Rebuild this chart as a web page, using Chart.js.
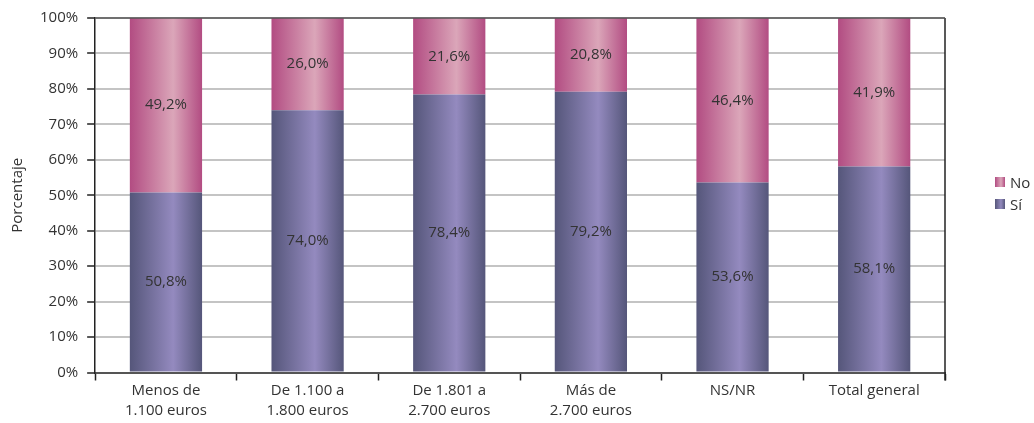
<!DOCTYPE html>
<html>
<head>
<meta charset="utf-8">
<script src="https://cdn.jsdelivr.net/npm/chart.js@4/dist/chart.umd.min.js"></script>
<style>
  html, body { margin: 0; padding: 0; background: #fff; }
  #wrap { position: relative; width: 1034px; height: 423px; }
  .legend { position: absolute; left: 995px; top: 171px; font-family: "Open Sans", sans-serif; font-size: 15px; color: #333; }
  .legend div { display: flex; align-items: center; height: 22px; }
  .legend span.box { width: 10px; height: 10px; margin-right: 5px; display: inline-block; }
</style>
</head>
<body>
<div id="wrap">
  <canvas id="chart" width="1034" height="423"></canvas>
  <div class="legend">
    <div><span class="box" style="background: linear-gradient(90deg, #b24c82, #dba6b9 60%, #b24c82)"></span>No</div>
    <div><span class="box" style="background: linear-gradient(90deg, #56577a, #938abe 60%, #56577a)"></span>Sí</div>
  </div>
</div>
<script>
// Chart data
const categories = [
  ["Menos de", "1.100 euros"],
  ["De 1.100 a", "1.800 euros"],
  ["De 1.801 a", "2.700 euros"],
  ["Más de", "2.700 euros"],
  "NS/NR",
  "Total general",
];
const siValues = [50.8, 74.0, 78.4, 79.2, 53.6, 58.1];
const noValues = [49.2, 26.0, 21.6, 20.8, 46.4, 41.9];
const yTicks = [0, 10, 20, 30, 40, 50, 60, 70, 80, 90, 100];

const BAR_PCT = 0.51;
const FONT = "Open Sans";

// horizontal gradient across each bar: dark edges, light centre
function barGradient(dark, light, fallback) {
  return (context) => {
    const chart = context.chart;
    const xScale = chart.scales.x;
    if (!chart.chartArea || !xScale || context.dataIndex === undefined) return fallback;
    const center = xScale.getPixelForValue(context.dataIndex);
    const half = (xScale.width / categories.length) * BAR_PCT / 2;
    const g = chart.ctx.createLinearGradient(center - half, 0, center + half, 0);
    g.addColorStop(0, dark);
    g.addColorStop(0.6, light);
    g.addColorStop(1, dark);
    return g;
  };
}

// values written in the middle of each segment
const segmentLabels = {
  id: "segmentLabels",
  afterDatasetsDraw(chart) {
    const ctx = chart.ctx;
    ctx.save();
    ctx.font = '15px "' + FONT + '", sans-serif';
    ctx.fillStyle = "#333";
    ctx.textAlign = "center";
    ctx.textBaseline = "middle";
    chart.data.datasets.forEach((ds, i) => {
      chart.getDatasetMeta(i).data.forEach((bar, j) => {
        const y = (bar.y + bar.base) / 2;
        ctx.fillText(ds.data[j].toFixed(1).replace(".", ",") + "%", bar.x, y);
      });
    });
    ctx.restore();
  },
};

// top and right edge of the plot frame
const plotFrame = {
  id: "plotFrame",
  afterDraw(chart) {
    const { ctx, chartArea } = chart;
    ctx.save();
    ctx.strokeStyle = "#222";
    ctx.lineWidth = 1.5;
    ctx.beginPath();
    ctx.moveTo(chartArea.right, chartArea.top);
    ctx.lineTo(chartArea.right, chartArea.bottom + 8);
    ctx.stroke();
    ctx.strokeStyle = "#555";
    ctx.beginPath();
    ctx.moveTo(chartArea.left, chartArea.top);
    ctx.lineTo(chartArea.right, chartArea.top);
    ctx.stroke();
    ctx.restore();
  },
};

const ctx = document.getElementById("chart").getContext("2d");
const chart = new Chart(ctx, {
  type: "bar",
  data: {
    labels: categories,
    datasets: [
      {
        label: "Sí",
        data: siValues,
        backgroundColor: barGradient("#55567a", "#948abf", "#7a72a0"),
        borderWidth: 0,
        barPercentage: BAR_PCT,
        categoryPercentage: 1,
      },
      {
        label: "No",
        data: noValues,
        backgroundColor: barGradient("#b24c82", "#dba6b9", "#c77a9e"),
        borderWidth: 0,
        barPercentage: BAR_PCT,
        categoryPercentage: 1,
      },
    ],
  },
  options: {
    responsive: false,
    animation: false,
    layout: {
      padding: { top: 14, right: 89, left: 9, bottom: 2 },
    },
    scales: {
      x: {
        stacked: true,
        grid: {
          offset: true,
          drawOnChartArea: false,
          tickLength: 8,
          tickColor: "#222",
          tickWidth: 1.5,
        },
        border: { color: "#555", width: 2 },
        ticks: {
          color: "#333",
          font: { family: FONT, size: 15, lineHeight: 1.35 },
          maxRotation: 0,
          padding: 0,
        },
      },
      y: {
        stacked: true,
        min: 0,
        max: 100,
        afterBuildTicks: (axis) => {
          axis.ticks = yTicks.map((v) => ({ value: v }));
        },
        grid: {
          color: "#c4c4c4",
          lineWidth: 2,
          tickLength: 8,
          tickColor: "#222",
          tickWidth: 1.5,
        },
        border: { color: "#222", width: 1.5 },
        ticks: {
          color: "#333",
          font: { family: FONT, size: 15 },
          padding: 9,
          callback: (v) => v + "%",
        },
        title: {
          display: true,
          text: "Porcentaje",
          color: "#333",
          font: { family: FONT, size: 15 },
          padding: { top: 0, bottom: 4 },
        },
      },
    },
    plugins: {
      legend: { display: false },
      tooltip: { enabled: false },
    },
  },
  plugins: [segmentLabels, plotFrame],
});
</script>
</body>
</html>
